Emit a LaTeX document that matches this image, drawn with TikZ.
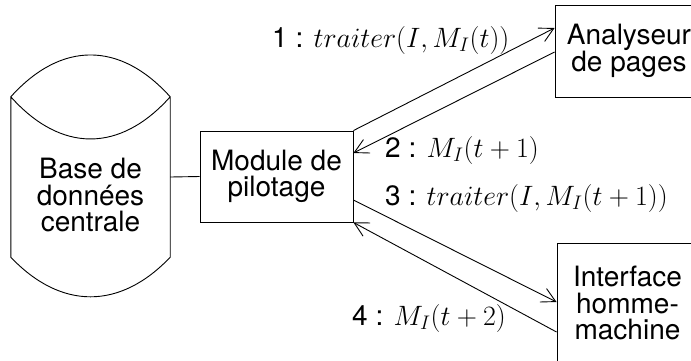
\RequirePackage{fix-cm}
\documentclass[tikz,border=0pt]{standalone}
\usepackage{fontspec}
\setmainfont{TeX Gyre Heros}
\usetikzlibrary{arrows.meta}
\begin{document}
\begin{tikzpicture}[x=1pt,y=-1pt,
  every node/.style={font=\fontsize{28}{26.5}\selectfont},
  box/.style={draw, line width=0.9pt, align=center, inner sep=0pt},
  link/.style={line width=0.9pt},
  msg/.style={line width=0.9pt, -{Straight Barb[length=14pt,width=15pt,line width=0.9pt]}},
  lbl/.style={anchor=base west, inner sep=0pt}]
\useasboundingbox (0,0) rectangle (691,360);
% database cylinder
\node[inner sep=0pt, minimum width=159pt, minimum height=160pt] (db) at (90.5,177) {};
\draw[link] (db.north west) .. controls (61,41) and (120,41) .. (db.north east)
  (db.north west) .. controls (61,153) and (120,153) .. (db.north east)
  (db.north west) -- (db.south west) .. controls (61,310) and (120,310) .. (db.south east) -- (db.north east);
\node[align=center, inner sep=0pt] (dbtext) at (90.5,195) {Base de\\données\\centrale};
% boxes
\node[box, minimum width=153pt, minimum height=91pt] (mod) at (276.5,176.5) {Module de\\pilotage};
\node[box, minimum width=148pt, minimum height=92pt] (ana) at (629,51) {Analyseur\\de pages};
\node[box, minimum width=141pt, minimum height=120pt] (ihm) at (627.5,303) {Interface\\homme-\\machine};
% connectors
\draw[link] (db.east) -- (mod.west);
\draw[msg] (mod.north east) -- ([yshift=23pt]ana.west);
\draw[msg] ([yshift=-1pt]ana.west) -- ([yshift=23.5pt]mod.east);
\draw[msg] ([yshift=-23.5pt]mod.east) -- ([yshift=1pt]ihm.west);
\draw[msg] ([yshift=-29pt]ihm.west) -- (mod.south east);
% labels
\node[lbl] (l1) at (272,47) {1 : $traiter(I,M_I(t))$};
\node[lbl] (l2) at (385,157) {2 : $M_I(t+1)$};
\node[lbl] (l3) at (385,205) {3 : $traiter(I,M_I(t+1))$};
\node[lbl] (l4) at (352,325) {4 : $M_I(t+2)$};
\end{tikzpicture}
\end{document}
